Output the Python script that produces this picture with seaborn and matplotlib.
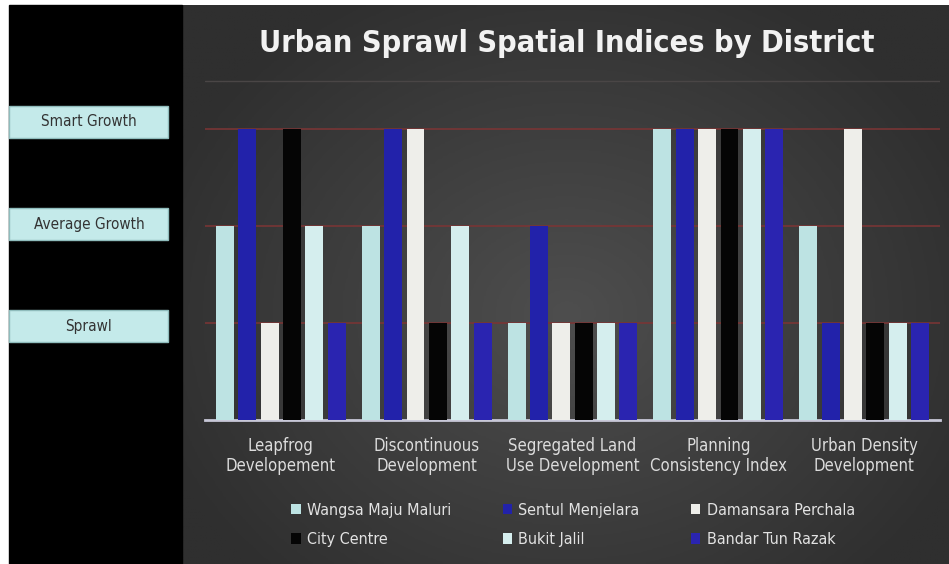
import seaborn as sns
import pandas as pd
import numpy as np
import matplotlib
import matplotlib.pyplot as plt
from matplotlib.patches import Rectangle

categories = ["Leapfrog\nDevelopement", "Discontinuous\nDevelopment", "Segregated Land\nUse Development",
              "Planning\nConsistency Index", "Urban Density\nDevelopment"]
districts = ["Wangsa Maju Maluri", "Sentul Menjelara", "Damansara Perchala",
             "City Centre", "Bukit Jalil", "Bandar Tun Razak"]
# 1 = Sprawl, 2 = Average Growth, 3 = Smart Growth
wangsa = [2, 2, 1, 3, 2]
sentul = [3, 3, 2, 3, 1]
damansara = [1, 3, 1, 3, 3]
city_centre = [3, 1, 1, 3, 1]
bukit_jalil = [2, 2, 1, 3, 1]
bandar_tun = [1, 1, 1, 3, 1]
level_names = ["Sprawl", "Average Growth", "Smart Growth"]
level_values = [1, 2, 3]

colors = ["#bde3e3", "#2222aa", "#eeeeea", "#050505", "#d5eeee", "#2a24b0"]

rows = []
for name, vals in zip(districts, [wangsa, sentul, damansara, city_centre, bukit_jalil, bandar_tun]):
    for cat, v in zip(categories, vals):
        rows.append({"category": cat, "district": name, "value": v})
df = pd.DataFrame(rows)

sns.set_theme(style="white")
plt.rcParams['font.family'] = ['DejaVu Sans']
plt.rcParams['font.stretch'] = 'condensed'
narrow = dict(family='DejaVu Sans', stretch='condensed')

W, H = 949, 564
fig = plt.figure(figsize=(W / 100, H / 100), dpi=100, facecolor="white")

# background panels
bg = fig.add_axes([0, 0, 1, 1], zorder=-10)
bg.axis("off")
bg.add_patch(Rectangle((9, 5), 173, H - 5, color="black"))
yy, xx = np.mgrid[0:200, 0:300]
r = np.sqrt(((xx - 150) / 170) ** 2 + ((yy - 110) / 130) ** 2)
grad = np.clip(1 - r, 0, 1)
bg.imshow(grad, extent=[182, W, H, 5], cmap=matplotlib.colors.LinearSegmentedColormap.from_list(
    "g", ["#2f2f2f", "#4e4e4e"]), vmin=0, vmax=1, aspect="auto", zorder=0)
bg.set_xlim(0, W)
bg.set_ylim(H, 0)

ax = fig.add_axes([205 / W, 144 / H, 735 / W, (420 - 32) / H])
ax.patch.set_alpha(0)
sns.barplot(data=df, x="category", y="value", hue="district", palette=colors,
            gap=0.2, width=0.92, ax=ax, saturation=1, legend=True, zorder=3,
            linewidth=0, edgecolor="none")
ax.set_ylim(0, 4)
ax.set_xlim(-0.52, 4.52)
ax.set_xlabel("")
ax.set_ylabel("")
ax.set_yticks([])
for v in level_values:
    ax.axhline(v, color="#7a3535", lw=1.3, alpha=0.9, zorder=1)
ax.axhline(3.5, color="#4a4646", lw=1, zorder=1)
for s in ["top", "right", "left"]:
    ax.spines[s].set_visible(False)
ax.spines["bottom"].set_color("#c8c8d8")
ax.spines["bottom"].set_linewidth(2)
ax.tick_params(axis="x", colors="#dcdcdc", labelsize=12, length=0, pad=12)
for t in ax.get_xticklabels():
    t.set_fontstretch('condensed')

# left-side level labels in wide pale boxes
for v, name in zip(level_values, level_names):
    ypix = 428 - v * 102
    bg.add_patch(Rectangle((9, ypix - 16), 159, 32, fc="#c4eaea", ec="#8fbcbc", lw=1, zorder=2))
    bg.text(89, ypix, name, ha="center", va="center", fontsize=11, color="#333333", zorder=3, **narrow)

fig.text(567 / W, 1 - 44 / H, "Urban Sprawl Spatial Indices by District", ha="center", va="center",
         fontsize=22, fontweight="bold", color="#f2f2f2", **narrow)

handles, labels = ax.get_legend_handles_labels()
ax.get_legend().remove()
# legend order is row-major in the reference
order = [0, 3, 1, 4, 2, 5]
leg = fig.legend([handles[i] for i in order], [labels[i] for i in order], ncol=3, loc="center",
                 bbox_to_anchor=(573 / W, 1 - 525 / H), frameon=False, labelcolor="#e2e2e2",
                 handlelength=0.6, handleheight=0.6, handletextpad=0.4, columnspacing=3.2,
                 labelspacing=0.9, prop=dict(family='DejaVu Sans', stretch='condensed', size=11.5))

plt.savefig("out.png", dpi=100, facecolor=fig.get_facecolor())
